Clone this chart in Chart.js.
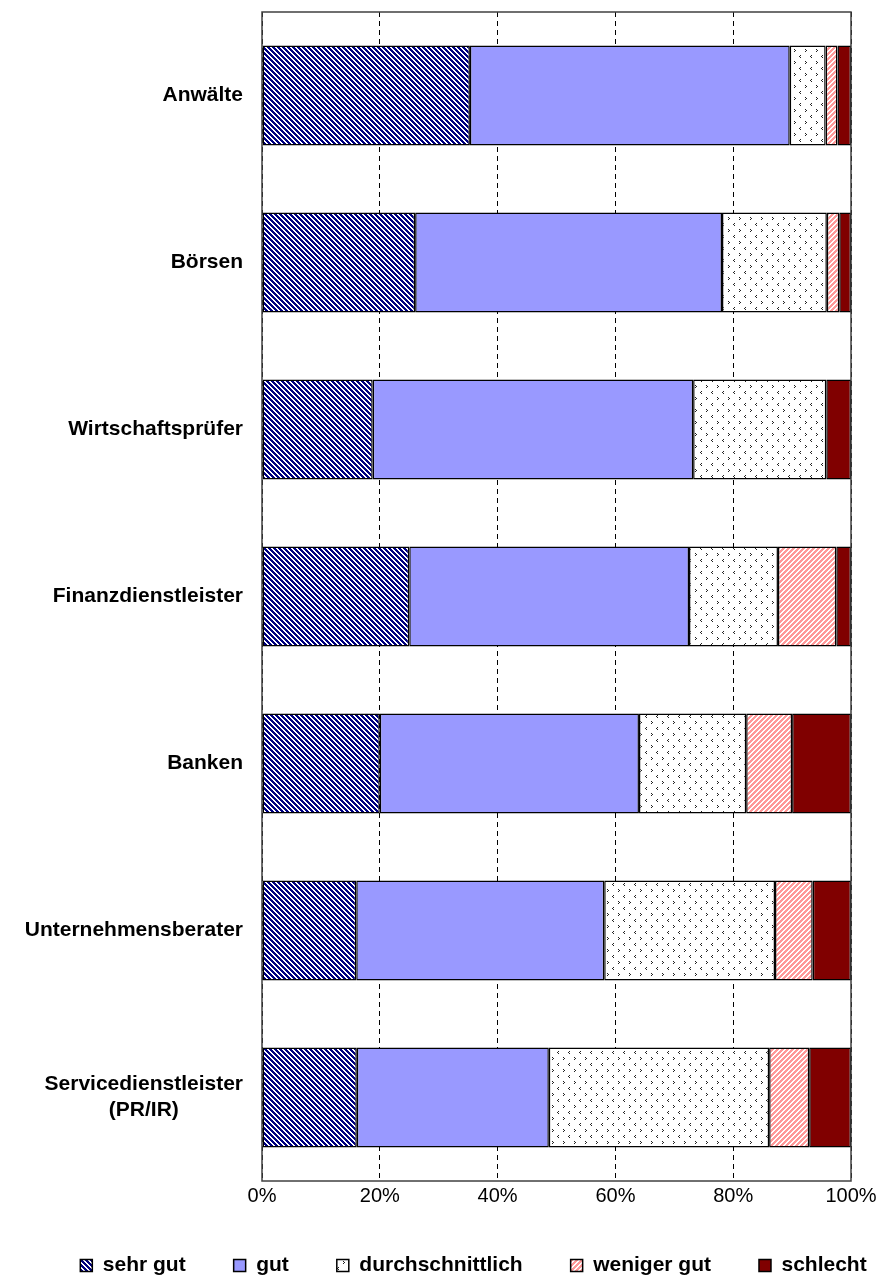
<!DOCTYPE html>
<html lang="de">
<head>
  <meta charset="UTF-8">
  <title>Zufriedenheit mit Dienstleistern</title>
  <script src="https://cdn.jsdelivr.net/npm/chart.js"></script>
  <style>
    body { margin: 0; background: #fff; }
  </style>
</head>
<body>
  <canvas id="myChart" width="883" height="1286"></canvas>

  <script>
    // categories (top to bottom)
    const categories = [
      'Anwälte',
      'Börsen',
      'Wirtschaftsprüfer',
      'Finanzdienstleister',
      'Banken',
      'Unternehmensberater',
      ['Servicedienstleister', '(PR/IR)' + ' '.repeat(11)]
    ];

    // shares in percent
    const sehrGut          = [35.3, 26.0, 18.8, 25.0, 20.0, 16.0, 16.1];
    const gut              = [54.3, 52.1, 54.4, 47.5, 44.0, 42.1, 32.6];
    const durchschnittlich = [ 6.1, 17.8, 22.6, 15.1, 18.2, 29.0, 37.4];
    const wenigerGut       = [ 2.0,  2.1,  0.0,  9.9,  7.8,  6.4,  6.8];
    const schlecht         = [ 2.3,  2.0,  4.2,  2.5, 10.0,  6.5,  7.1];

    const xTicks = [0, 20, 40, 60, 80, 100];

    // small tile patterns like the old office fills
    function makePattern(w, h, bg, fg, isOn) {
      const c = document.createElement('canvas');
      c.width = w; c.height = h;
      const g = c.getContext('2d');
      g.fillStyle = bg;
      g.fillRect(0, 0, w, h);
      g.fillStyle = fg;
      for (let y = 0; y < h; y++) {
        for (let x = 0; x < w; x++) {
          if (isOn(x, y)) g.fillRect(x, y, 1, 1);
        }
      }
      return g.createPattern(c, 'repeat');
    }

    const ctx = document.getElementById('myChart').getContext('2d');

    const navyStripes = makePattern(5, 5, '#ffffff', '#000080', (x, y) => ((x - y + 10) % 5) < 3);
    const pinkStripes = makePattern(5, 5, '#ffffff', '#ff9999', (x, y) => ((x + y) % 5) < 3);
    // little > and < marks, staggered rows
    const gt = [[2, 1], [3, 2], [2, 3]];
    const lt = [[8, 7], [7, 8], [8, 9]];
    const chevrons = makePattern(11, 12, '#ffffff', '#222222', (x, y) =>
      gt.some(p => p[0] === x && p[1] === y) || lt.some(p => p[0] === x && p[1] === y));

    const frame = {
      id: 'frame',
      afterLayout(chart) {
        // legend sits a bit right of the page centre in the original
        chart.legend.left += 32;
        chart.legend.right += 32;
      },
      afterDraw(chart) {
        const a = chart.chartArea;
        const c = chart.ctx;
        c.save();
        c.strokeStyle = '#404040';
        c.lineWidth = 1.5;
        c.strokeRect(a.left, a.top, a.right - a.left, a.bottom - a.top);
        c.restore();
      }
    };

    const barStyle = { borderColor: '#000000', borderWidth: 1.5, borderSkipped: false };
    const font = 'Liberation Sans, Arial, sans-serif';

    const chart = new Chart(ctx, {
      type: 'bar',
      data: {
        labels: categories,
        datasets: [
          { label: 'sehr gut', data: sehrGut, backgroundColor: navyStripes, ...barStyle },
          { label: 'gut', data: gut, backgroundColor: '#9999ff', ...barStyle },
          { label: 'durchschnittlich', data: durchschnittlich, backgroundColor: chevrons, ...barStyle },
          { label: 'weniger gut', data: wenigerGut, backgroundColor: pinkStripes, ...barStyle },
          { label: 'schlecht', data: schlecht, backgroundColor: '#800000', ...barStyle }
        ]
      },
      options: {
        indexAxis: 'y',
        responsive: false,
        animation: false,
        categoryPercentage: 1,
        barPercentage: 0.6,
        layout: { padding: { top: 12, left: 0, right: 0, bottom: 0 } },
        scales: {
          x: {
            stacked: true,
            min: 0,
            max: 100,
            afterBuildTicks: (scale) => { scale.ticks = xTicks.map(v => ({ value: v })); },
            afterFit: (scale) => {
              scale.paddingRight = 32;
              scale.height = 26;
            },
            grid: { color: '#000000', lineWidth: 1, drawTicks: false },
            border: { display: false, dash: [5, 4] },
            ticks: {
              padding: 3,
              color: '#000000',
              font: { family: font, size: 20 },
              callback: (v) => v + '%'
            }
          },
          y: {
            stacked: true,
            afterFit: (scale) => {
              scale.width = 262;
              scale.paddingTop = 0;
              scale.paddingBottom = 0;
            },
            grid: { display: false, drawTicks: false },
            border: { display: false },
            ticks: {
              padding: 19,
              color: '#000000',
              font: { family: font, size: 21, weight: 'bold', lineHeight: 1.25 }
            }
          }
        },
        plugins: {
          legend: {
            position: 'bottom',
            labels: {
              boxWidth: 12,
              boxHeight: 12,
              padding: 48,
              color: '#000000',
              font: { family: font, size: 21, weight: 'bold' }
            }
          },
          tooltip: { enabled: false }
        }
      },
      plugins: [frame]
    });
  </script>
</body>
</html>
